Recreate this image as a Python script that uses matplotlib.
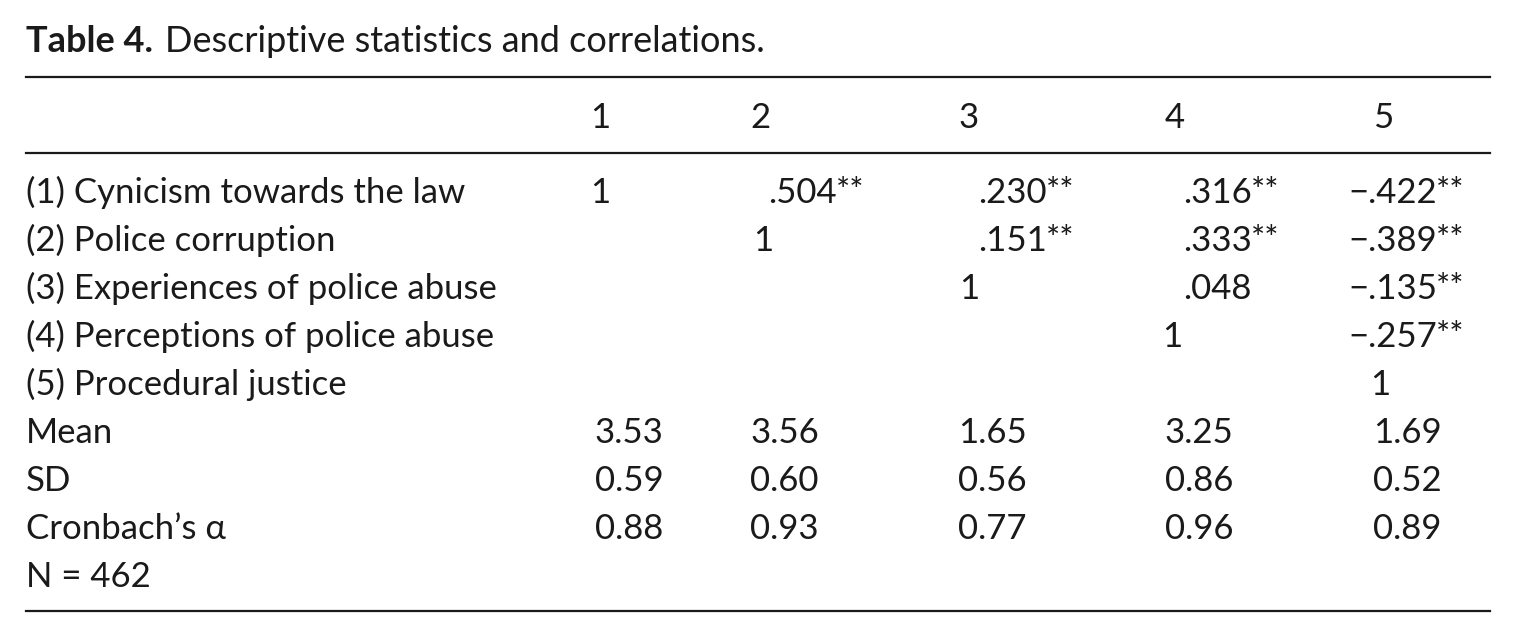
#!/usr/bin/env python3
# Table 4 - descriptive statistics and correlations, drawn as text on a blank figure
import matplotlib
matplotlib.use('Agg')
import matplotlib.pyplot as plt

W, H = 1516, 638

ROW_LABELS = ['(1) Cynicism towards the law', '(2) Police corruption',
              '(3) Experiences of police abuse', '(4) Perceptions of police abuse',
              '(5) Procedural justice']
COL_HEADERS = ['1', '2', '3', '4', '5']

# upper triangle of the correlation matrix, None where blank
CORR = [
    ['1', '.504', '.230', '.316', '\u2212.422'],
    [None, '1', '.151', '.333', '\u2212.389'],
    [None, None, '1', '.048', '\u2212.135'],
    [None, None, None, '1', '\u2212.257'],
    [None, None, None, None, '1'],
]
SIG = [
    [False, True, True, True, True],
    [False, False, True, True, True],
    [False, False, False, False, True],
    [False, False, False, False, True],
    [False, False, False, False, False],
]
MEANS = ['3.53', '3.56', '1.65', '3.25', '1.69']
SDS = ['0.59', '0.60', '0.56', '0.86', '0.52']
ALPHAS = ['0.88', '0.93', '0.77', '0.96', '0.89']
N_TEXT = 'N = 462'

FONT = ['Lato', 'DejaVu Sans']
SIZE = 25
INK = '#1a1a1a'

# layout in pixels (baselines)
COL_X = [595, 750, 958, 1165, 1373]
HEAD_X = [590, 750, 958, 1165, 1373]
DIAG_X = [590, 753, 959, 1162, 1370]
VAL_X = [595, 768, 978, 1183, 1348]
LEFT, RIGHT = 26, 1490
ROW_Y = [203, 251, 299, 347, 395]
STAT_Y = [443, 491, 539]
N_Y = 587


def fx(x):
    return x / W


def fy(y):
    return 1 - y / H


def put(x, y, s, size=SIZE, **kw):
    return fig.text(fx(x), fy(y), s, family=FONT, fontsize=size, va='baseline',
                    ha='left', color=INK, **kw)


fig = plt.figure(figsize=(W / 100, H / 100), dpi=100)
renderer = fig.canvas.get_renderer()

# title
t = put(26, 52, 'Table 4.', size=26, fontweight='bold')
ext = t.get_window_extent(renderer)
put(ext.x1 + 12, 52, 'Descriptive statistics and correlations.', size=26)

# rules
for y in [77, 153, 611]:
    fig.add_artist(plt.Line2D([fx(LEFT), fx(RIGHT)], [fy(y), fy(y)], color=INK, lw=1.6))

# header
for i, h in enumerate(COL_HEADERS):
    put(HEAD_X[i], 128, h)

# correlations
for r, label in enumerate(ROW_LABELS):
    put(26, ROW_Y[r], label)
    for c in range(5):
        v = CORR[r][c]
        if v is None:
            continue
        x = DIAG_X[c] if v == '1' else VAL_X[c]
        t = put(x, ROW_Y[r], v)
        if SIG[r][c]:
            ext = t.get_window_extent(renderer)
            put(ext.x1 - 1, ROW_Y[r] - 2, '**', size=24)

# descriptive rows
for label, vals, y in zip(['Mean', 'SD', 'Cronbach\u2019s \u03b1'], [MEANS, SDS, ALPHAS], STAT_Y):
    put(26, y, label)
    for c, v in enumerate(vals):
        put(COL_X[c], y, v)
put(26, N_Y, N_TEXT)

fig.savefig('out.png', dpi=100)
